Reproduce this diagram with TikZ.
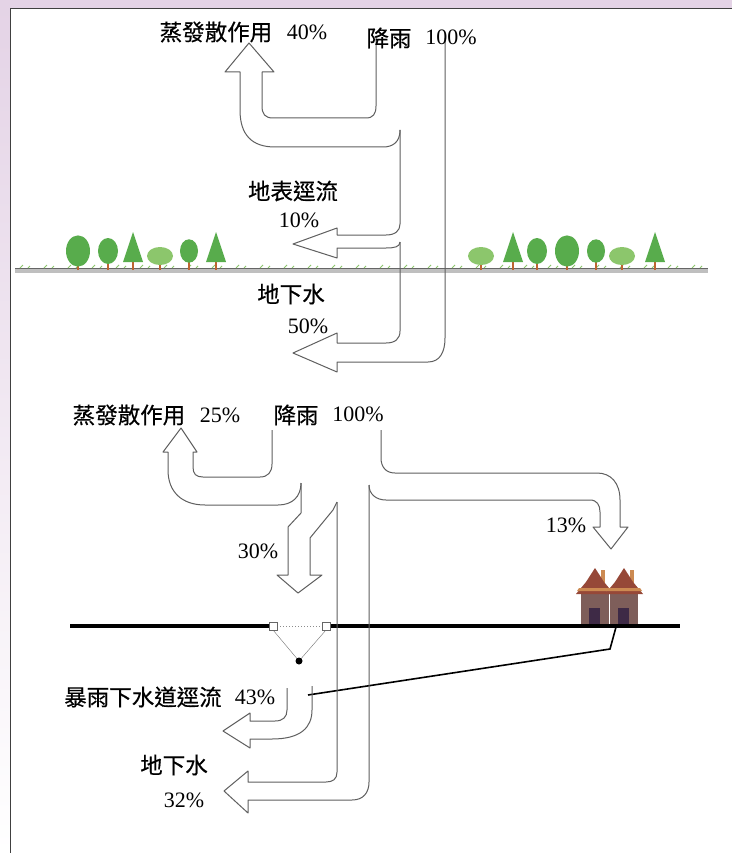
\documentclass[tikz,border=0pt]{standalone}
\usepackage{fontspec}
\usepackage{tikz}
\usepackage{xcolor}
\newfontfamily\cjk[FakeBold=0.5]{Noto Sans CJK TC}
\newfontfamily\numfont{Liberation Serif}
\definecolor{lavender}{RGB}{228,211,230}
\definecolor{flowgray}{RGB}{95,95,95}
\definecolor{leaf}{RGB}{88,172,76}
\definecolor{leaflight}{RGB}{140,198,108}
\definecolor{trunk}{RGB}{190,100,50}
\definecolor{roof}{RGB}{150,72,56}
\definecolor{roofband}{RGB}{204,138,82}
\definecolor{wall}{RGB}{126,94,90}
\definecolor{door}{RGB}{62,42,70}

\begin{document}
\begin{tikzpicture}[x=1pt,y=-1pt,
    flow/.style={draw=flowgray, line width=1pt, line join=round},
    lab/.style={inner sep=0pt, font=\cjk\fontsize{22.5}{26}\selectfont},
    pct/.style={inner sep=0pt, font=\numfont\fontsize{22}{24}\selectfont}]
        \useasboundingbox (0,0) rectangle (732,853);

        % frame
        \fill[lavender] (0,0) rectangle (732,853);
        \shade[top color=lavender, middle color=lavender!70, bottom color=white] (0,0) rectangle (10,853);
        \fill[white] (10,8) rectangle (732,853);
        \draw[black!75, line width=1.5pt] (10.5,853) -- (10.5,8.5) -- (732,8.5);

        % top: ground with trees
        \fill[black!25] (15,268) rectangle (708,273);
        \draw[black!60, line width=0.8pt] (15,268.5) -- (708,268.5);
        \foreach \gx in {20,44,...,700} {
            \draw[leaflight, line width=1pt] (\gx,268) -- (\gx+3,265) (\gx+8,268) -- (\gx+10,266);
        }
        \foreach \tx in {133,216,513,655} {
            \draw[trunk, line width=1.5pt] (\tx,270) -- (\tx,256);
            \fill[leaf] (\tx,232) -- (\tx+10,262) -- (\tx-10,262) -- cycle;
        }
        \foreach \tx/\r in {78/12,108/10,189/9,537/10,567/12,596/9} {
            \draw[trunk, line width=1.5pt] (\tx,270) -- (\tx,252);
            \fill[leaf] (\tx,251) ellipse [x radius=\r, y radius=1.3*\r];
        }
        \foreach \tx in {160,481,622} {
            \draw[trunk, line width=1.2pt] (\tx,270) -- (\tx,258);
            \fill[leaflight] (\tx,256) ellipse [x radius=13, y radius=9];
        }

        % top: evaporation
        \draw[flow] (400,130) .. controls (400,142) and (393,147) .. (383,147)
            -- (275,147) .. controls (252,147) and (240,135) .. (240,110)
            -- (240,72) -- (225,72) -- (249,43) -- (274,72) -- (262,72)
            -- (262,106) .. controls (262,114) and (265,118) .. (273,118)
            -- (366,118) .. controls (373,118) and (376,114) .. (376,106)
            -- (376,36);
        % top: surface runoff
        \draw[flow] (400,130) -- (400,224) .. controls (400,231) and (395,235) .. (386,235)
            -- (337,235) -- (337,228) -- (293,244) -- (337,258) -- (337,248)
            -- (386,248) .. controls (394,248) and (400,247) .. (400,242);
        % top: groundwater
        \draw[flow] (400,242) -- (400,331) .. controls (400,339) and (395,343) .. (386,343)
            -- (337,343) -- (337,333) -- (293,353) -- (337,372) -- (337,362)
            -- (428,362) .. controls (440,362) and (445,352) .. (445,338) -- (445,38);

        \node[lab] (evapA) at (216,32) {蒸發散作用};
        \node[pct] (evapApct) at (307,32) {40\%};
        \node[lab] (rainA) at (389,38) {降雨};
        \node[pct] (rainApct) at (451,37) {100\%};
        \node[lab] (runoffA) at (293,191) {地表逕流};
        \node[pct] (runoffApct) at (299,220) {10\%};
        \node[lab] (gwA) at (291,294) {地下水};
        \node[pct] (gwApct) at (308,326) {50\%};

        % bottom: paved ground, drain and houses
        \draw[line width=4pt] (70,626) -- (269,626);
        \draw[line width=4pt] (330,626) -- (680,626);
        \draw[black!45, dotted, line width=1pt] (277,626) -- (322,626);
        \draw[black!55] (273,630) -- (299,661) -- (326,630);
        \fill (299,661) circle (3.5);
        \draw[black!60, fill=white] (269,622) rectangle (277,630);
        \draw[black!60, fill=white] (322,622) rectangle (330,630);
        \draw[line width=1.6pt] (308,695) -- (610,649) -- (616,627);
        \foreach \cx in {595,624} {
            \fill[wall] (\cx-14,593) rectangle (\cx+14,624);
            \fill[door] (\cx-6,608) rectangle (\cx+5,624);
            \fill[roofband] (\cx+6,570) rectangle (\cx+10,584);
            \fill[roof] (\cx-19,594) -- (\cx-9,582) -- (\cx,568) -- (\cx+9,582) -- (\cx+19,594) -- cycle;
            \fill[roofband] (\cx-16,588) -- (\cx+16,588) -- (\cx+18,591) -- (\cx-18,591) -- cycle;
        }

        % bottom: evaporation
        \draw[flow] (301,483) .. controls (301,497) and (292,505) .. (278,505)
            -- (205,505) .. controls (182,505) and (168,492) .. (168,470)
            -- (168,452) -- (163,452) -- (181,428) -- (197,452) -- (193,452)
            -- (193,467) .. controls (193,474) and (196,477) .. (203,477)
            -- (260,477) .. controls (268,477) and (272,472) .. (272,464) -- (272,430);
        % bottom: infiltration
        \draw[flow] (301,483) -- (301,513) -- (288,527) -- (288,575) -- (277,575)
            -- (298,593) -- (322,575) -- (310,575) -- (310,538) -- (333,510) -- (337,502);
        % bottom: groundwater
        \draw[flow] (337,502) -- (337,772) .. controls (337,779) and (333,782) .. (326,782)
            -- (248,782) -- (248,771) -- (224,791) -- (248,813) -- (248,800)
            -- (352,800) .. controls (363,800) and (369,793) .. (369,782) -- (369,485);
        % bottom: runoff onto the houses
        \draw[flow] (369,485) .. controls (369,494) and (376,500) .. (386,500)
            -- (590,500) .. controls (597,500) and (600,505) .. (600,512)
            -- (600,527) -- (593,527) -- (611,549) -- (628,527) -- (620,527)
            -- (620,500) .. controls (620,483) and (611,473) .. (597,473)
            -- (395,473) .. controls (386,473) and (381,467) .. (381,458) -- (381,430);
        % bottom: storm sewer
        \draw[flow] (287,688) -- (287,710) .. controls (287,717) and (283,721) .. (275,721)
            -- (250,721) -- (250,713) -- (223,731) -- (250,748) -- (250,739)
            -- (272,739) .. controls (300,739) and (312,728) .. (312,710) -- (312,686);

        \node[lab] (evapB) at (129,415) {蒸發散作用};
        \node[pct] (evapBpct) at (220,415) {25\%};
        \node[lab] (rainB) at (296,415) {降雨};
        \node[pct] (rainBpct) at (358,414) {100\%};
        \node[pct] (infB) at (258,551) {30\%};
        \node[pct] (houseB) at (566,525) {13\%};
        \node[lab] (sewerB) at (143,697) {暴雨下水道逕流};
        \node[pct] (sewerBpct) at (255,697) {43\%};
        \node[lab] (gwB) at (174,765) {地下水};
        \node[pct] (gwBpct) at (184,800) {32\%};
    \end{tikzpicture}
\end{document}
